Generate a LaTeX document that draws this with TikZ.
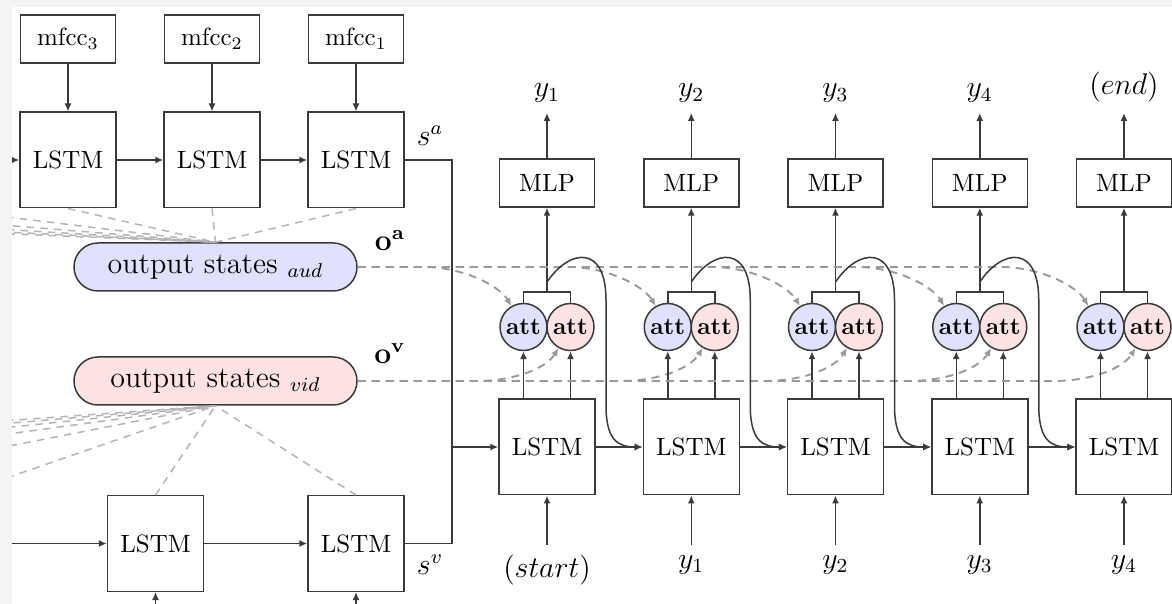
\documentclass[tikz,border=0pt]{standalone}
\usetikzlibrary{arrows.meta,calc}
\definecolor{attblue}{HTML}{E0E0FF}
\definecolor{attpink}{HTML}{FFE2E2}
\definecolor{edgecol}{HTML}{3A3A3A}
\definecolor{dgrey}{HTML}{999999}
\definecolor{cgrey}{HTML}{B4B4B4}
\definecolor{margincol}{HTML}{F4F4F4}
\begin{document}
\begin{tikzpicture}[x=0.4pt,y=0.4pt,
  >={Latex[length=3.2pt,width=2.8pt]},
  lstm/.style={draw=edgecol, line width=0.6pt, fill=white, minimum width=38.4pt, minimum height=38.2pt, inner sep=0pt},
  smallbox/.style={draw=edgecol, line width=0.6pt, fill=white, minimum width=38pt, minimum height=19.2pt, inner sep=0pt},
  attnode/.style={circle, draw=edgecol, line width=0.6pt, minimum size=18.8pt, inner sep=0pt, font=\fontsize{9.6}{11}\selectfont\bfseries},
  states/.style={draw=edgecol, line width=0.6pt, rounded corners=9.6pt, minimum width=113.2pt, minimum height=19.2pt, inner sep=0pt, font=\large},
  lbl/.style={font=\large, inner sep=4pt},
  conn/.style={draw=edgecol, line width=0.6pt},
  arr/.style={conn, ->},
  encdash/.style={draw=cgrey, line width=0.6pt, dash pattern=on 3pt off 2.5pt},
  attdash/.style={draw=dgrey, line width=0.75pt, dash pattern=on 3.2pt off 2.4pt, ->},
]
\useasboundingbox (0,0) rectangle (1172,-604);
\fill[margincol] (0,0) rectangle (1172,-604);
\fill[white] (12,-7) rectangle (1172,-604);
\begin{scope}
\clip (12,-7) rectangle (1172,-604);

% ---------- encoder (audio) ----------
\node[lstm] (a1) at (68,-160) {LSTM};
\node[lstm] (a2) at (212,-160) {LSTM};
\node[lstm] (a3) at (356,-160) {LSTM};
\node[smallbox] (f3) at (68,-39) {mfcc$_3$};
\node[smallbox] (f2) at (212,-39) {mfcc$_2$};
\node[smallbox] (f1) at (356,-39) {mfcc$_1$};
\coordinate (ain) at (-20,-160);

% ---------- output states ----------
\node[states, fill=attblue] (aud) at (215.5,-267) {output states $_{aud}$};
\node[states, fill=attpink] (vid) at (215.5,-381) {output states $_{vid}$};

% ---------- encoder (video) ----------
\node[lstm] (b1) at (155.5,-543.5) {LSTM};
\node[lstm] (b2) at (356,-543.5) {LSTM};
\coordinate (bin) at (-20,-543.5);
\coordinate (bb1) at (155.5,-640);
\coordinate (bb2) at (356,-640);

% ---------- labels ----------
\node[lbl] (sa) at (430,-136) {$s^a$};
\node[lbl] (sv) at (430,-565) {$s^v$};
\node[lbl] (oa) at (390,-241) {$\mathbf{o}^{\mathbf{a}}$};
\node[lbl] (ov) at (390,-354) {$\mathbf{o}^{\mathbf{v}}$};

% ---------- converging dashed lines ----------
\foreach \k in {0,...,4} {
  \coordinate (ea\k) at (-76-144*\k,-207);
  \draw[encdash] (ea\k) -- (aud.north);
}
\foreach \k in {1,...,6} {
  \coordinate (eb\k) at (155.5-201*\k,-496);
  \draw[encdash] (eb\k) -- (vid.south);
}
\foreach \n in {a1,a2,a3} \draw[encdash] (\n.south) -- (aud.north);
\foreach \n in {b1,b2} \draw[encdash] (\n.north) -- (vid.south);

% ---------- encoder connectors ----------
\draw[arr] (ain) -- (a1.west);
\draw[arr] (a1) -- (a2);
\draw[arr] (a2) -- (a3);
\draw[arr] (f3) -- (a1);
\draw[arr] (f2) -- (a2);
\draw[arr] (f1) -- (a3);
\draw[arr] (bin) -- (b1.west);
\draw[arr] (b1) -- (b2);
\draw[arr] (bb1) -- (b1.south);
\draw[arr] (bb2) -- (b2.south);

% ---------- decoder nodes ----------
\foreach \i/\lab/\inp in {1/{y_1}/{(start)},2/{y_2}/{y_1},3/{y_3}/{y_2},4/{y_4}/{y_3},5/{(end)}/{y_4}} {
  \pgfmathsetmacro\cx{547+144.25*(\i-1)}
  \node[lstm] (d\i) at (\cx,-447) {LSTM};
  \node[smallbox] (m\i) at (\cx,-183) {MLP};
  \node[attnode, fill=attblue] (ab\i) at (\cx-23.5,-327) {att};
  \node[attnode, fill=attpink] (ap\i) at (\cx+23.5,-327) {att};
  \coordinate (br\i) at (\cx,-292);
  \coordinate (k\i) at (\cx,-282);
  \node[lbl, anchor=south] (o\i) at (\cx,-113) {$\lab$};
  \node[lbl, anchor=north] (in\i) at (\cx,-545) {$\inp$};
}

% ---------- junction ----------
\coordinate (jn) at (452,-447);
\draw[conn] (a3.east) -| (jn);
\draw[conn] (b2.east) -| (jn);
\draw[arr] (jn) -- (d1.west);

% ---------- decoder connectors ----------
\foreach \i in {1,...,5} {
  \draw[attdash] (aud.east) -- ($(ab\i |- aud.east)+(-100,0)$) .. controls +(40,0) and +(-12,20) .. (ab\i.120);
  \draw[attdash] (vid.east) -- ($(ap\i |- vid.east)+(-95,0)$) .. controls +(40,0) and +(-12,-20) .. (ap\i.240);
  \draw[conn] (ab\i.north) |- (br\i) -| (ap\i.north);
  \draw[arr] (br\i) -- (m\i.south);
  \draw[arr] (m\i.north) -- (o\i.south);
  \draw[arr] (in\i.north) -- (d\i.south);
  \draw[arr] (d\i.north -| ab\i) -- (ab\i.south);
  \draw[arr] (d\i.north -| ap\i) -- (ap\i.south);
}
\foreach \i [evaluate=\i as \j using int(\i+1)] in {1,...,4} {
  \draw[arr] (d\i.east) -- (d\j.west);
  \draw[arr] (k\i) .. controls +(23,34) and +(0,55) .. ++(59,-18) -- ++(0,-105) .. controls +(0,-35) and +(-25,0) .. (d\j.west);
}
\end{scope}
\end{tikzpicture}
\end{document}
